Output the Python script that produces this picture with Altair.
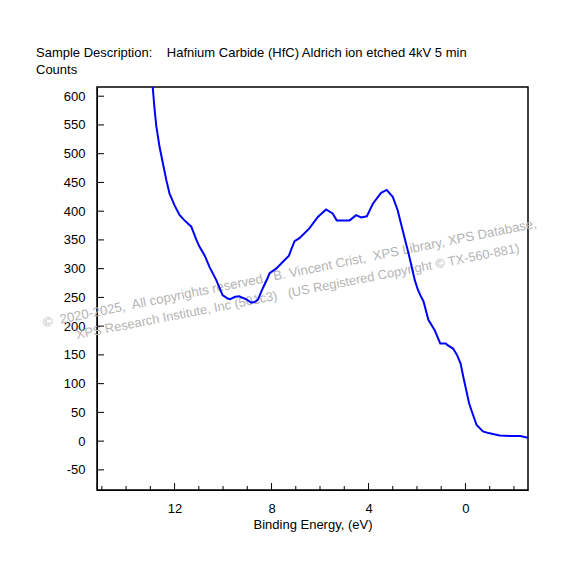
import altair as alt
import pandas as pd

# Binding energy (eV) and counts
be = [12.93, 12.82, 12.75, 12.62, 12.48, 12.34, 12.21, 12.00, 11.79, 11.59,
      11.31, 11.10, 10.97, 10.76, 10.56, 10.28, 10.02, 9.81, 9.71, 9.50,
      9.33, 9.02, 8.84, 8.70, 8.56, 8.36, 8.18, 8.08, 7.81, 7.53,
      7.29, 7.19, 7.05, 6.85, 6.44, 6.09, 5.75, 5.48, 5.31, 4.78,
      4.51, 4.30, 4.07, 3.82, 3.48, 3.25, 3.00, 2.80, 2.59, 2.31,
      2.09, 1.96, 1.83, 1.73, 1.53, 1.27, 1.04, 0.81, 0.74, 0.51,
      0.35, 0.20, 0.09, -0.03, -0.15, -0.26, -0.46, -0.72, -0.95, -1.41,
      -1.87, -2.26, -2.58]
counts = [630, 575, 547, 512, 483, 454, 431, 410, 393, 384,
          373, 350, 338, 323, 303, 280, 254, 248, 247, 251,
          252, 246, 241, 242, 246, 266, 282, 292, 300, 312,
          322, 333, 348, 353, 370, 390, 403, 396, 384, 384,
          393, 389, 391, 413, 432, 437, 425, 402, 367, 320,
          280, 263, 251, 243, 211, 193, 170, 170, 167, 161,
          150, 135, 112, 89, 66, 52, 28, 17, 14, 10,
          9, 9, 6]

x_major = [12, 8, 4, 0]
x_minor = [15, 14, 13, 11, 10, 9, 7, 6, 5, 3, 2, 1, -1, -2]
y_ticks = list(range(-50, 601, 50))

title_line = "Sample Description:\u00a0\u00a0\u00a0 Hafnium Carbide (HfC) Aldrich ion etched 4kV 5 min"
wm1 = "\u00a9\u00a0 2020-2025,\u00a0 All copyrights reserved,\u00a0 B. Vincent Crist,\u00a0 XPS Library, XPS Database,"
wm2 = "XPS Research Institute, Inc (501c3)\u00a0\u00a0 (US Registered Copyright \u00a9 TX-560-881)"

FONT = "Liberation Sans"
FS = 13

df = pd.DataFrame({"be": be, "counts": counts, "i": range(len(be))})
xs = alt.Scale(domain=[-2.58, 15.2], reverse=True, nice=False, zero=False)
ys = alt.Scale(domain=[-85, 616], nice=False, zero=False)

x_axis = alt.Axis(values=x_major, ticks=False, tickSize=0, grid=False,
                  labelPadding=12, titlePadding=3, domainColor="black",
                  labelColor="black", titleColor="black", labelFontSize=FS,
                  titleFontSize=FS, titleFontWeight="normal", labelFont=FONT, titleFont=FONT)
y_axis = alt.Axis(values=y_ticks, ticks=False, tickSize=0, grid=False,
                  labelPadding=12, domainColor="black", labelColor="black",
                  labelFontSize=FS, labelFont=FONT, labelFlush=False, labelOverlap=False,
                  labelExpr="'' + datum.value")
XT = "Binding Energy, (eV)"

line = alt.Chart(df).mark_line(color="#0000ff", strokeWidth=2, clip=True).encode(
    x=alt.X("be:Q", scale=xs, title=XT, axis=x_axis),
    y=alt.Y("counts:Q", scale=ys, title=None, axis=y_axis),
    order=alt.Order("i:Q"),
)

xmaj = alt.Chart(pd.DataFrame({"v": x_major})).mark_rule(color="black", strokeWidth=1).encode(
    x=alt.X("v:Q", scale=xs, title=XT, axis=x_axis), y=alt.value(403), y2=alt.value(396))
xmin = alt.Chart(pd.DataFrame({"v": x_minor})).mark_rule(color="black", strokeWidth=1).encode(
    x=alt.X("v:Q", scale=xs, title=XT, axis=x_axis), y=alt.value(403), y2=alt.value(399))
ytk = alt.Chart(pd.DataFrame({"v": y_ticks})).mark_rule(color="black", strokeWidth=1).encode(
    y=alt.Y("v:Q", scale=ys, title=None, axis=y_axis), x=alt.value(0), x2=alt.value(7))

wm_a = alt.Chart(pd.DataFrame({"t": [wm1]})).mark_text(
    align="left", baseline="alphabetic", angle=348.6, fontSize=13.2, font=FONT, color="#b4b4b4"
).encode(text="t:N", x=alt.value(-53), y=alt.value(240))
wm_b = alt.Chart(pd.DataFrame({"t": [wm2]})).mark_text(
    align="left", baseline="alphabetic", angle=348.9, fontSize=12.9, font=FONT, color="#b4b4b4"
).encode(text="t:N", x=alt.value(-20), y=alt.value(252))

chart = alt.layer(wm_a, wm_b, line, xmaj, xmin, ytk).properties(
    width=431, height=403,
    padding={"left": 89, "top": 79, "right": 40, "bottom": 60},
    autosize=alt.AutoSizeParams(type="none"),
    title=alt.TitleParams(text=[title_line, "Counts"], anchor="start", frame="group",
                          dx=-61, offset=0, fontSize=FS, fontWeight="normal",
                          font=FONT, color="black", lineHeight=17, baseline="alphabetic"),
).configure_view(stroke="black", strokeWidth=1.5)

chart.save("out.html", embed_options={"renderer": "svg", "actions": False})
